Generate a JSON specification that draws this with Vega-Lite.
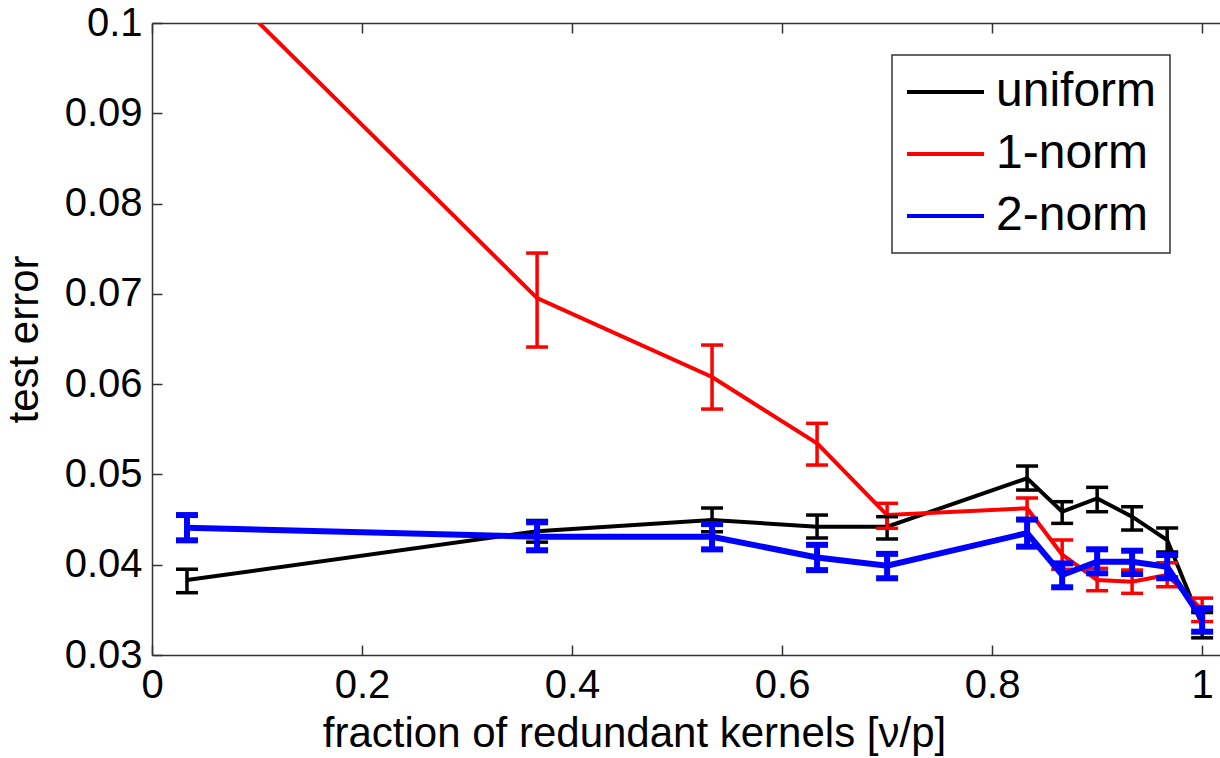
{
  "$schema": "https://vega.github.io/schema/vega-lite/v6.json",
  "width": 1068,
  "height": 632,
  "autosize": {"type": "none"},
  "padding": {"left": 152, "top": 23, "right": 0, "bottom": 103},
  "background": "white",
  "config": {
    "view": {"stroke": null},
    "font": "Liberation Sans",
    "line": {"strokeWidth": 4},
    "axis": {
      "grid": false,
      "domainColor": "#333333",
      "domainWidth": 1.5,
      "tickColor": "#333333",
      "tickWidth": 1.5,
      "tickSize": -10,
      "labelFont": "Liberation Sans",
      "labelFontSize": 40,
      "labelColor": "#000000",
      "labelPadding": 20,
      "titleFont": "Liberation Sans",
      "titleFontSize": 42,
      "titleFontWeight": "normal",
      "titleColor": "#000000"
    },
    "legend": {"strokeWidth": 1.5}
  },
  "data": {
    "values": [
      {"series": "uniform", "x": 0.0333, "y": 0.0383, "lo": 0.0369, "hi": 0.0395},
      {"series": "uniform", "x": 0.3667, "y": 0.0437, "lo": 0.0425, "hi": 0.0449},
      {"series": "uniform", "x": 0.5333, "y": 0.04495, "lo": 0.04365, "hi": 0.04628},
      {"series": "uniform", "x": 0.6333, "y": 0.04421, "lo": 0.04296, "hi": 0.0455},
      {"series": "uniform", "x": 0.7, "y": 0.04421, "lo": 0.04285, "hi": 0.04532},
      {"series": "uniform", "x": 0.8333, "y": 0.04957, "lo": 0.04827, "hi": 0.05093},
      {"series": "uniform", "x": 0.8667, "y": 0.04587, "lo": 0.04458, "hi": 0.04698},
      {"series": "uniform", "x": 0.9, "y": 0.04735, "lo": 0.04587, "hi": 0.04857},
      {"series": "uniform", "x": 0.9333, "y": 0.04532, "lo": 0.04384, "hi": 0.04642},
      {"series": "uniform", "x": 0.9667, "y": 0.04274, "lo": 0.0414, "hi": 0.04408},
      {"series": "uniform", "x": 1.0, "y": 0.0333, "lo": 0.0319, "hi": 0.0347},
      {"series": "1-norm", "x": 0.0333, "y": 0.1079, "lo": 0.1025, "hi": 0.1135},
      {"series": "1-norm", "x": 0.3667, "y": 0.06953, "lo": 0.06411, "hi": 0.07452},
      {"series": "1-norm", "x": 0.5333, "y": 0.06079, "lo": 0.05724, "hi": 0.06433},
      {"series": "1-norm", "x": 0.6333, "y": 0.05344, "lo": 0.05104, "hi": 0.05566},
      {"series": "1-norm", "x": 0.7, "y": 0.0455, "lo": 0.04403, "hi": 0.0468},
      {"series": "1-norm", "x": 0.8333, "y": 0.04625, "lo": 0.04495, "hi": 0.04739},
      {"series": "1-norm", "x": 0.8667, "y": 0.04111, "lo": 0.03949, "hi": 0.04274},
      {"series": "1-norm", "x": 0.9, "y": 0.03831, "lo": 0.03712, "hi": 0.0396},
      {"series": "1-norm", "x": 0.9333, "y": 0.03812, "lo": 0.03683, "hi": 0.03941},
      {"series": "1-norm", "x": 0.9667, "y": 0.03886, "lo": 0.03756, "hi": 0.04022},
      {"series": "1-norm", "x": 1.0, "y": 0.035, "lo": 0.0337, "hi": 0.0363},
      {"series": "2-norm", "x": 0.0333, "y": 0.0441, "lo": 0.0427, "hi": 0.0455},
      {"series": "2-norm", "x": 0.3667, "y": 0.0431, "lo": 0.0416, "hi": 0.0447},
      {"series": "2-norm", "x": 0.5333, "y": 0.0431, "lo": 0.0417, "hi": 0.0445},
      {"series": "2-norm", "x": 0.6333, "y": 0.0408, "lo": 0.0394, "hi": 0.0422},
      {"series": "2-norm", "x": 0.7, "y": 0.0399, "lo": 0.0385, "hi": 0.0412},
      {"series": "2-norm", "x": 0.8333, "y": 0.0435, "lo": 0.042, "hi": 0.045},
      {"series": "2-norm", "x": 0.8667, "y": 0.03886, "lo": 0.0375, "hi": 0.04015},
      {"series": "2-norm", "x": 0.9, "y": 0.04033, "lo": 0.03905, "hi": 0.04171},
      {"series": "2-norm", "x": 0.9333, "y": 0.04033, "lo": 0.03897, "hi": 0.04155},
      {"series": "2-norm", "x": 0.9667, "y": 0.03978, "lo": 0.03849, "hi": 0.04107},
      {"series": "2-norm", "x": 1.0, "y": 0.03395, "lo": 0.03258, "hi": 0.03517}
    ]
  },
  "resolve": {"axis": {"x": "independent"}},
  "layer": [
    {
      "mark": {"type": "line", "clip": true, "strokeWidth": 4},
      "transform": [{"filter": "datum.series != '2-norm'"}],
      "encoding": {
        "x": {
          "field": "x", "type": "quantitative",
          "scale": {"domain": [0, 1.017], "nice": false, "zero": false},
          "axis": {
            "orient": "bottom",
            "values": [0, 0.2, 0.4, 0.6, 0.8, 1],
            "labelExpr": "format(datum.value, '~g')",
            "title": "fraction of redundant kernels [\u03bd/p]",
            "titlePadding": 8,
            "titleAnchor": "middle",
            "titleX": 482,
            "labelFlush": false
          }
        },
        "y": {
          "field": "y", "type": "quantitative",
          "scale": {"domain": [0.03, 0.1], "nice": false, "zero": false},
          "axis": {
            "values": [0.03, 0.04, 0.05, 0.06, 0.07, 0.08, 0.09, 0.1],
            "labelExpr": "format(datum.value, '~g')",
            "title": "test error",
            "titlePadding": 18,
            "labelFlush": false
          }
        },
        "color": {
          "field": "series", "type": "nominal",
          "scale": {"domain": ["uniform", "1-norm", "2-norm"], "range": ["#000000", "#ff0000", "#0000ff"]},
          "legend": {
            "orient": "none",
            "legendX": 740,
            "legendY": 32,
            "title": null,
            "symbolType": "stroke",
            "symbolSize": 5929,
            "symbolStrokeWidth": 5,
            "clipHeight": 48,
            "labelFont": "Liberation Sans",
            "labelFontSize": 48,
            "labelColor": "#000000",
            "labelOffset": 10,
            "labelLimit": 400,
            "padding": 13,
            "rowPadding": 14,
            "strokeColor": "#333333",
            "fillColor": "white"
          }
        },
        "strokeWidth": {"value": 4},
        "order": {"field": "x", "type": "quantitative"}
      }
    },
    {
      "mark": {"type": "rule", "clip": true, "strokeWidth": 3.5},
      "transform": [{"filter": "datum.series != '2-norm'"}],
      "encoding": {
        "x": {
          "field": "x", "type": "quantitative",
          "axis": {
            "orient": "top",
            "values": [0, 0.2, 0.4, 0.6, 0.8, 1],
            "labels": false,
            "title": null
          }
        },
        "y": {"field": "lo", "type": "quantitative"},
        "y2": {"field": "hi"},
        "color": {"field": "series", "type": "nominal", "legend": null}
      }
    },
    {
      "mark": {"type": "tick", "clip": true, "orient": "horizontal", "size": 22, "thickness": 3.5, "opacity": 1},
      "transform": [{"filter": "datum.series != '2-norm'"}],
      "encoding": {
        "x": {"field": "x", "type": "quantitative", "axis": null},
        "y": {"field": "lo", "type": "quantitative"},
        "color": {"field": "series", "type": "nominal", "legend": null}
      }
    },
    {
      "mark": {"type": "tick", "clip": true, "orient": "horizontal", "size": 22, "thickness": 3.5, "opacity": 1},
      "transform": [{"filter": "datum.series != '2-norm'"}],
      "encoding": {
        "x": {"field": "x", "type": "quantitative", "axis": null},
        "y": {"field": "hi", "type": "quantitative"},
        "color": {"field": "series", "type": "nominal", "legend": null}
      }
    },
    {
      "mark": {"type": "line", "clip": true, "strokeWidth": 6},
      "transform": [{"filter": "datum.series == '2-norm'"}],
      "encoding": {
        "x": {"field": "x", "type": "quantitative", "axis": null},
        "y": {"field": "y", "type": "quantitative"},
        "color": {"field": "series", "type": "nominal", "legend": null},
        "strokeWidth": {"value": 6},
        "order": {"field": "x", "type": "quantitative"}
      }
    },
    {
      "mark": {"type": "rule", "clip": true, "strokeWidth": 6},
      "transform": [{"filter": "datum.series == '2-norm'"}],
      "encoding": {
        "x": {"field": "x", "type": "quantitative", "axis": null},
        "y": {"field": "lo", "type": "quantitative"},
        "y2": {"field": "hi"},
        "color": {"field": "series", "type": "nominal", "legend": null}
      }
    },
    {
      "mark": {"type": "tick", "clip": true, "orient": "horizontal", "size": 22, "thickness": 6, "opacity": 1},
      "transform": [{"filter": "datum.series == '2-norm'"}],
      "encoding": {
        "x": {"field": "x", "type": "quantitative", "axis": null},
        "y": {"field": "lo", "type": "quantitative"},
        "color": {"field": "series", "type": "nominal", "legend": null}
      }
    },
    {
      "mark": {"type": "tick", "clip": true, "orient": "horizontal", "size": 22, "thickness": 6, "opacity": 1},
      "transform": [{"filter": "datum.series == '2-norm'"}],
      "encoding": {
        "x": {"field": "x", "type": "quantitative", "axis": null},
        "y": {"field": "hi", "type": "quantitative"},
        "color": {"field": "series", "type": "nominal", "legend": null}
      }
    }
  ]
}
